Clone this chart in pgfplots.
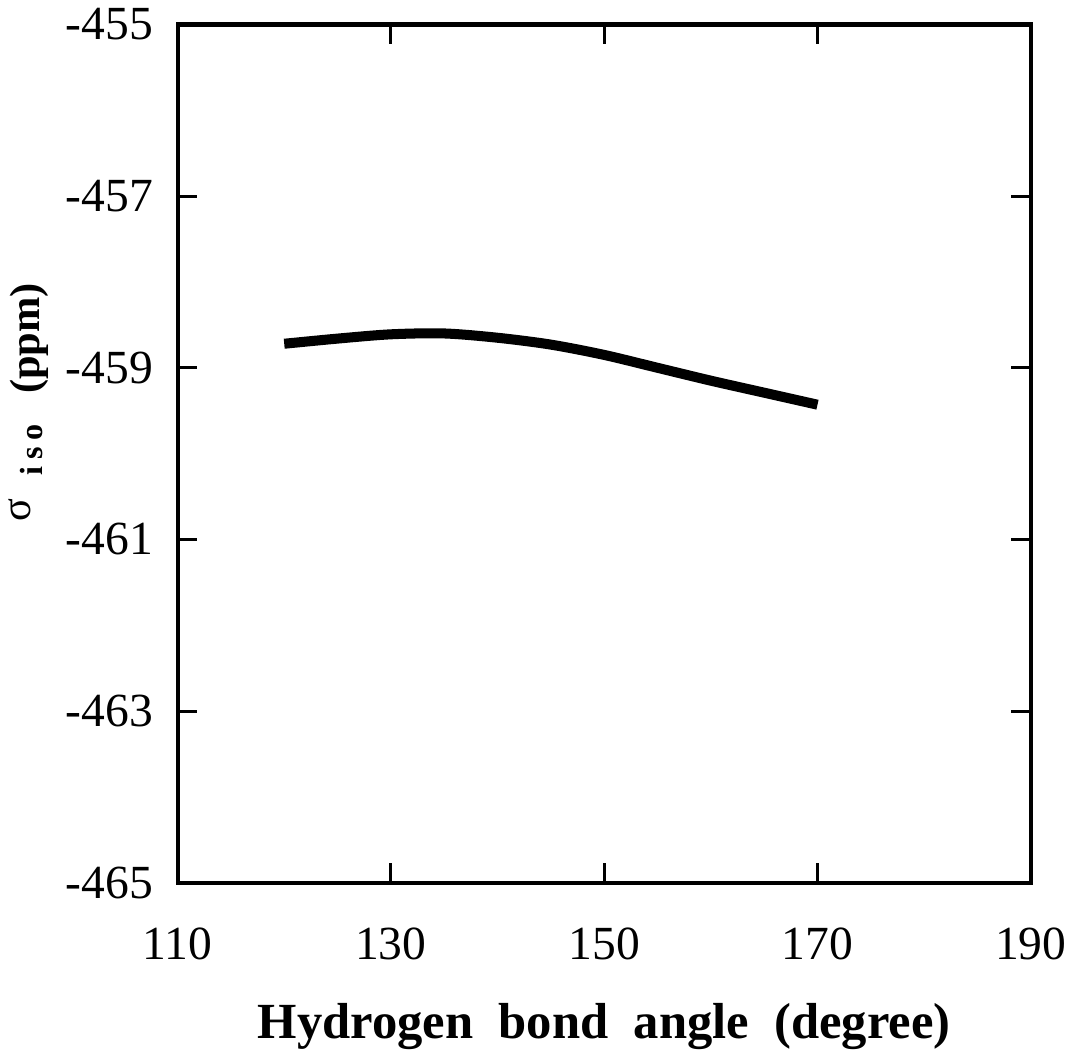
\documentclass[border=0pt]{standalone}
\usepackage{fontspec}
\setmainfont{Liberation Serif}
\usepackage{pgfplots}
\pgfplotsset{compat=1.18}
\begin{document}
\begin{tikzpicture}
\begin{axis}[
  scale only axis, width=332pt, height=334pt,
  xmin=110, xmax=190, ymin=-465, ymax=-455,
  xtick={110,130,150,170,190},
  ytick={-465,-463,-461,-459,-457,-455},
  tick align=inside, major tick length=7.6pt,
  axis line style={line width=1.6pt},
  every tick/.style={line width=1.1pt, black},
  /pgf/number format/assume math mode=true,
  /pgf/number format/set thousands separator={},
  ticklabel style={font=\fontsize{18.5}{18.5}\selectfont},
  xticklabel style={yshift=-14pt},
  yticklabel style={xshift=-6pt},
  xlabel={\textbf{Hydrogen\ \ bond\ \ angle\ \ (degree)}},
  xlabel style={font=\fontsize{19.7}{20}\selectfont, yshift=-10pt},
  ylabel={\raisebox{3.5pt}{σ}\hspace{9pt}\raisebox{-1.2pt}{\fontsize{12.5}{13}\selectfont\bfseries i\kern2.5pt s\kern2.5pt o}\hspace{12pt}\textbf{(ppm)}},
  ylabel style={font=\fontsize{16.5}{18}\selectfont, at={(ticklabel cs:0.56)}, anchor=near ticklabel},
]
\addplot[black, line width=3.9pt, smooth] coordinates {
(120,-458.72) (125,-458.66) (130,-458.61) (135,-458.60) (140,-458.65)
(145,-458.73) (150,-458.85) (155,-459.00) (160,-459.15) (165,-459.29) (170,-459.43)
};
\end{axis}
\end{tikzpicture}
\end{document}
